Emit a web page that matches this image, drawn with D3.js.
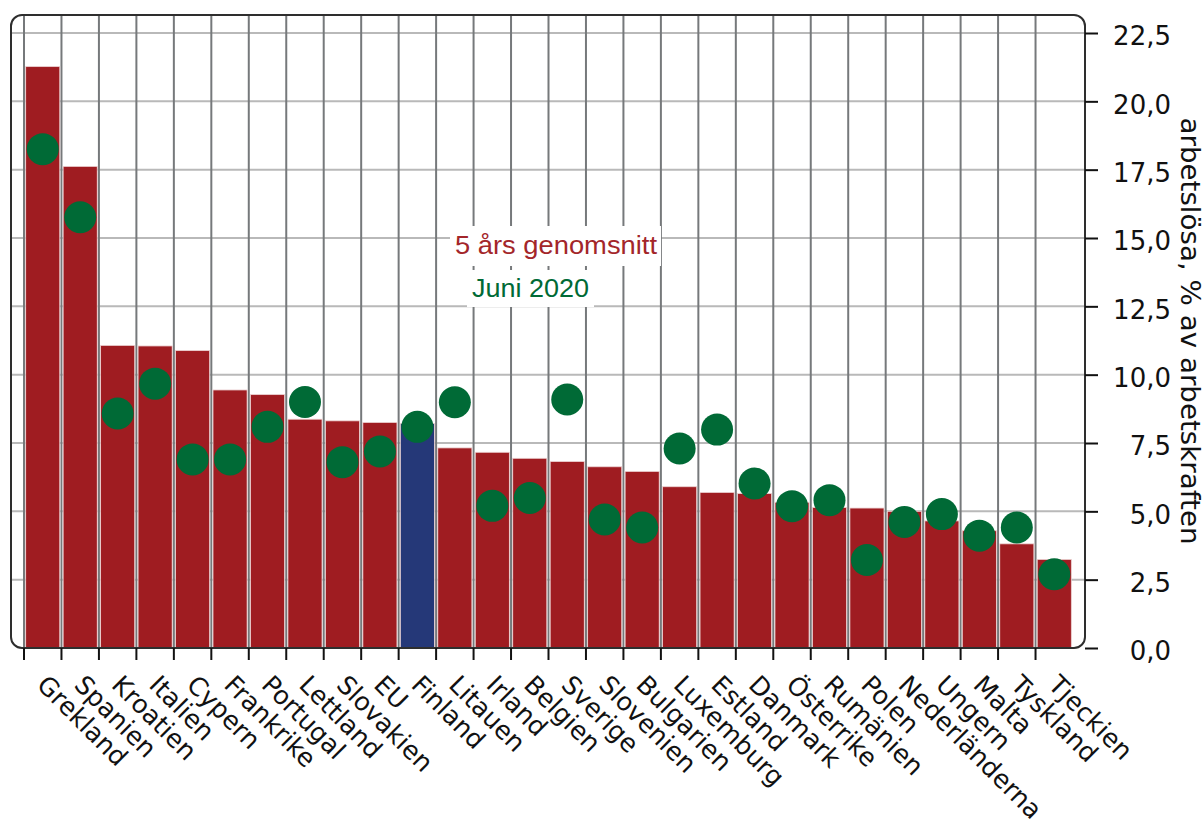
<!DOCTYPE html>
<html>
<head>
<meta charset="utf-8">
<script src="https://cdn.jsdelivr.net/npm/d3@7"></script>
<style>
  html, body { margin: 0; padding: 0; background: #fff; }
  svg { display: block; }
</style>
</head>
<body>
<svg id="chart" width="1204" height="825"></svg>
<script>
const categories = ["Grekland","Spanien","Kroatien","Italien","Cypern","Frankrike","Portugal","Lettland","Slovakien","EU","Finland","Litauen","Irland","Belgien","Sverige","Slovenien","Bulgarien","Luxemburg","Estland","Danmark","Österrike","Rumänien","Polen","Nederländerna","Ungern","Malta","Tyskland","Tjeckien"];
const avg5 = [21.27, 17.62, 11.07, 11.05, 10.88, 9.44, 9.27, 8.37, 8.31, 8.25, 8.21, 7.32, 7.16, 6.94, 6.82, 6.63, 6.46, 5.90, 5.69, 5.65, 5.33, 5.14, 5.12, 5.00, 4.65, 4.29, 3.81, 3.24];
const june2020 = [18.25, 15.76, 8.58, 9.67, 6.90, 6.90, 8.09, 9.00, 6.80, 7.19, 8.09, 8.99, 5.20, 5.49, 9.09, 4.70, 4.41, 7.30, 7.99, 6.02, 5.19, 5.41, 3.22, 4.61, 4.90, 4.11, 4.41, 2.70];
const highlight = ["Finland"];
const yTicks = [0, 2.5, 5, 7.5, 10, 12.5, 15, 17.5, 20, 22.5];
const legendLabels = ["5 års genomsnitt", "Juni 2020"];
const yTitle = "arbetslösa, % av arbetskraften";

const RED = "#9f1c21", BLUE = "#253878", GREEN = "#006a36";
const svg = d3.select("#chart");

const frame = {left: 11, right: 1085, top: 15, bottom: 648};
const pad = 0.09;
const x = d3.scaleBand().domain(categories).range([24, 1073]).paddingInner(pad).paddingOuter(pad / 2);
const y = d3.scaleLinear().domain([0, 22.5]).range([648, 33]);
const step = x.step();
const bandLeft = d => x(d) - step * pad / 2;

// horizontal grid
svg.append("g").selectAll("line").data(yTicks.filter(t => t > 0)).join("line")
  .attr("x1", frame.left).attr("x2", frame.right)
  .attr("y1", d => y(d)).attr("y2", d => y(d))
  .attr("stroke", "#b9b9b9").attr("stroke-width", 2);

// vertical grid
svg.append("g").selectAll("line").data(categories).join("line")
  .attr("x1", d => bandLeft(d)).attr("x2", d => bandLeft(d))
  .attr("y1", frame.top).attr("y2", frame.bottom)
  .attr("stroke", "#76797b").attr("stroke-width", 2);

// bars
svg.append("g").selectAll("rect").data(categories).join("rect")
  .attr("x", d => x(d)).attr("width", x.bandwidth())
  .attr("y", (d, i) => y(avg5[i]))
  .attr("height", (d, i) => y(0) - y(avg5[i]))
  .attr("fill", d => highlight.includes(d) ? BLUE : RED)
  .attr("stroke", "#ecd2d2").attr("stroke-width", 0.8);

// dots
svg.append("g").selectAll("circle").data(categories).join("circle")
  .attr("cx", d => x(d) + x.bandwidth() / 2)
  .attr("cy", (d, i) => y(june2020[i]))
  .attr("r", 16)
  .attr("fill", GREEN);

// frame
svg.append("rect")
  .attr("x", frame.left).attr("y", frame.top)
  .attr("width", frame.right - frame.left).attr("height", frame.bottom - frame.top)
  .attr("rx", 11).attr("ry", 11)
  .attr("fill", "none").attr("stroke", "#2e2e2e").attr("stroke-width", 2);

// bottom ticks
svg.append("g").selectAll("line").data(categories).join("line")
  .attr("x1", d => bandLeft(d)).attr("x2", d => bandLeft(d))
  .attr("y1", frame.bottom).attr("y2", frame.bottom + 12)
  .attr("stroke", "#111").attr("stroke-width", 2);

// category labels
svg.append("g").selectAll("text").data(categories).join("text")
  .attr("transform", d => `translate(${x(d) + x.bandwidth() / 2 - 1},${frame.bottom + 32}) rotate(45)`)
  .attr("dy", "0.35em")
  .attr("text-anchor", "start")
  .attr("font-family", "DejaVu Sans, Verdana, sans-serif")
  .attr("font-size", 25.5)
  .attr("fill", "#111")
  .text(d => d);

// right axis
const yAxis = d3.axisRight(y).tickValues(yTicks).tickSize(13).tickPadding(8)
  .tickFormat(d => d3.format(".1f")(d).replace(".", ","));
const ya = svg.append("g").attr("transform", `translate(${frame.right},0)`).call(yAxis);
ya.select(".domain").remove();
ya.selectAll(".tick line").attr("stroke", "#111").attr("stroke-width", 2);
ya.selectAll(".tick text")
  .attr("x", 86).attr("dy", "0.45em").attr("text-anchor", "end")
  .attr("font-family", "DejaVu Sans, Verdana, sans-serif")
  .attr("font-size", 26).attr("fill", "#111");

// y title
svg.append("text")
  .attr("transform", `translate(1181,331) rotate(90)`)
  .attr("text-anchor", "middle")
  .attr("font-family", "DejaVu Sans, Verdana, sans-serif")
  .attr("font-size", 26)
  .attr("textLength", 427).attr("lengthAdjust", "spacingAndGlyphs")
  .attr("fill", "#111")
  .text(yTitle);

// legend
const legendBoxes = [
  {x0: 450, y0: 226, w: 211, h: 40, tx: 455, ty: 254, len: 202, color: "#a3262a"},
  {x0: 467, y0: 270, w: 127, h: 37, tx: 472, ty: 297, len: 117, color: GREEN}
];
const lg = svg.append("g");
legendLabels.forEach((lab, i) => {
  const b = legendBoxes[i];
  lg.append("rect").attr("x", b.x0).attr("y", b.y0).attr("width", b.w).attr("height", b.h).attr("fill", "#fff");
  lg.append("text").attr("x", b.tx).attr("y", b.ty)
    .attr("font-family", "Liberation Sans, Arial, sans-serif")
    .attr("font-size", 25)
    .attr("textLength", b.len).attr("lengthAdjust", "spacingAndGlyphs")
    .attr("fill", b.color).text(lab);
});
</script>
</body>
</html>
